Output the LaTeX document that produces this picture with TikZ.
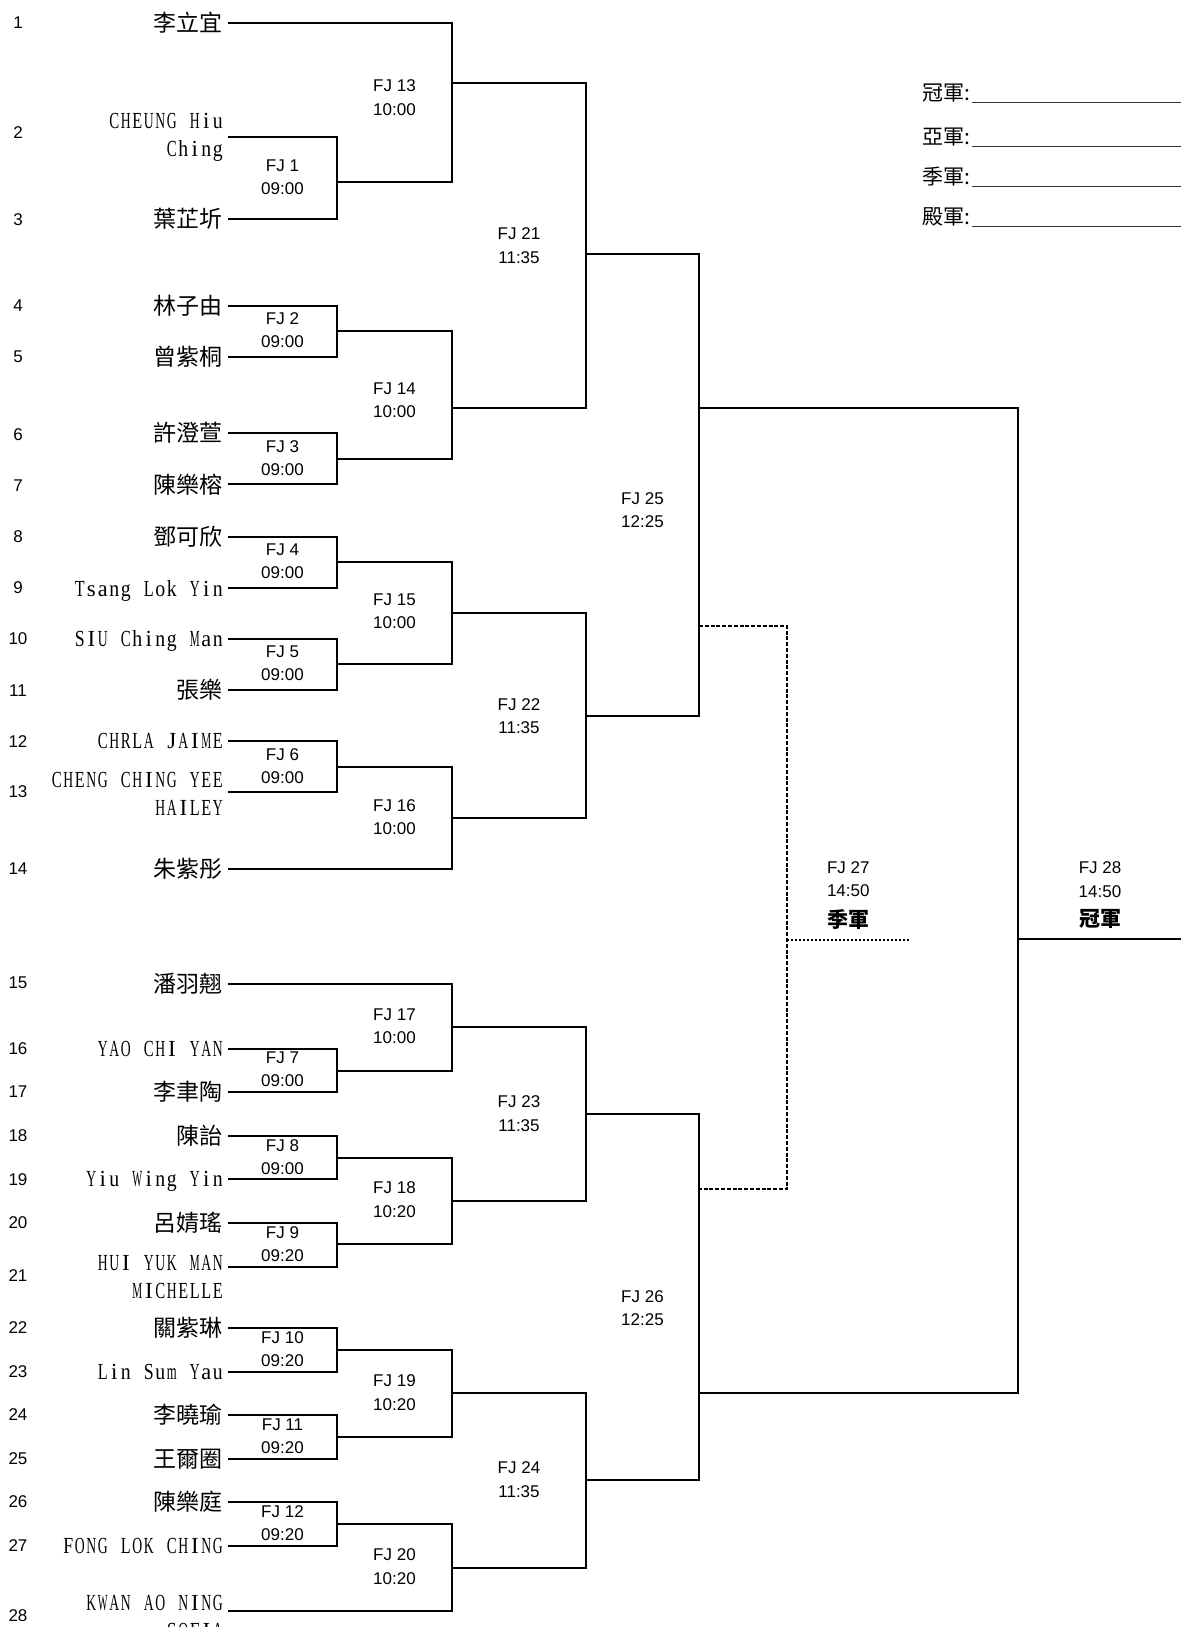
\documentclass[tikz,border=0pt]{standalone}
\usepackage{fontspec}
\usepackage{graphicx}
\setmainfont{Liberation Serif}
\newfontfamily\cjk{Noto Sans CJK TC}
\newfontfamily\arial{Liberation Sans}
\newlength\monocw \setlength\monocw{5.75pt}
\newsavebox\monobox
\newcommand\monochar[1]{\sbox\monobox{#1}\ifdim\wd\monobox>0.86\monocw\makebox[\monocw][c]{\resizebox{0.86\monocw}{\height}{\usebox\monobox}}\else\makebox[\monocw][c]{\usebox\monobox}\fi}
\ExplSyntaxOn
\NewDocumentCommand\mono{m}{\str_map_inline:nn{#1}{\monochar{##1}}}
\ExplSyntaxOff
\tikzset{
  bline/.style={line width=1pt},
  seed/.style={font=\arial\fontsize{8.5}{10}\selectfont, anchor=base, inner sep=0pt},
  lat/.style={font=\fontsize{11.5}{14}\selectfont, anchor=base east, inner sep=0pt},
  lattwo/.style={font=\fontsize{11.5}{14}\selectfont, anchor=north east, align=right, inner sep=0pt},
  zh/.style={font=\cjk\fontsize{11.5}{14}\selectfont, anchor=base east, inner sep=0pt},
  match/.style={font=\arial\fontsize{8.5}{11.65}\selectfont, align=center, inner sep=0pt},
  title/.style={font=\cjk\bfseries\fontsize{10.5}{12}\selectfont, inner sep=0pt},
  leg/.style={font=\cjk\fontsize{10.5}{12}\selectfont, anchor=base east, inner sep=0pt},
  legline/.style={line width=0.6pt, black!80},
  dashline/.style={line width=0.85pt, dash pattern=on 2pt off 0.9pt},
  dotline/.style={line width=0.8pt, dash pattern=on 0.8pt off 1.2pt}
}
\begin{document}
\begin{tikzpicture}[x=0.5pt,y=-0.5pt]
\fill[white] (0,0) rectangle (1181,1627);
\useasboundingbox (0,0) rectangle (1181,1627);

% seeds
\foreach \i/\yy in {1/22.8,2/132,3/219,4/305,5/356,6/434,7/485,8/536.5,9/587.4,10/638.2,11/690,12/741,13/791.8,14/868.6,15/982.8,16/1048,17/1091.8,18/1135.3,19/1178.9,20/1222.5,21/1275,22/1327.3,23/1371,24/1414.6,25/1458.2,26/1501.7,27/1545.3,28/1615}
  \node[seed] (s\i) at (18,\yy+6.1) {\i};

% player line starts
\foreach \i/\yy in {1/22.7,2/136.7,3/218.7,4/305.7,5/356.7,6/433,7/484.3,8/536.5,9/588.4,10/639.3,11/690,12/741,13/792.3,14/869,15/983.8,16/1049,17/1091.7,18/1136,19/1179,20/1222.7,21/1266.7,22/1328,23/1371.7,24/1415,25/1459,26/1501.7,27/1546,28/1611}
  \coordinate (p\i) at (228,\yy);

% names
\node[zh] (n1) at (223,22.7+8.7) {李立宜};
\node[lattwo] (n2) at (224,113.3) {\mono{CHEUNG Hiu}\\\mono{Ching}};
\node[zh] (n3) at (223,218.7+8.7) {葉芷圻};
\node[zh] (n4) at (223,305.7+8.7) {林子由};
\node[zh] (n5) at (223,356.7+8.7) {曾紫桐};
\node[zh] (n6) at (223,433+8.7) {許澄萱};
\node[zh] (n7) at (223,484.3+8.7) {陳樂榕};
\node[zh] (n8) at (223,536.5+8.7) {鄧可欣};
\node[lat] (n9) at (224,588.4+7.6) {\mono{Tsang Lok Yin}};
\node[lat] (n10) at (224,639.3+7.6) {\mono{SIU Ching Man}};
\node[zh] (n11) at (223,690+8.7) {張樂};
\node[lat] (n12) at (224,741+7.6) {\mono{CHRLA JAIME}};
\node[lattwo] (n13) at (224,771.7) {\mono{CHENG CHING YEE}\\\mono{HAILEY}};
\node[zh] (n14) at (223,869+8.7) {朱紫彤};
\node[zh] (n15) at (223,983.8+8.7) {潘羽翹};
\node[lat] (n16) at (224,1049+7.6) {\mono{YAO CHI YAN}};
\node[zh] (n17) at (223,1091.7+8.7) {李聿陶};
\node[zh] (n18) at (223,1136+8.7) {陳詒};
\node[lat] (n19) at (224,1179+7.6) {\mono{Yiu Wing Yin}};
\node[zh] (n20) at (223,1222.7+8.7) {呂婧瑤};
\node[lattwo] (n21) at (224,1255) {\mono{HUI YUK MAN}\\\mono{MICHELLE}};
\node[zh] (n22) at (223,1328+8.7) {關紫琳};
\node[lat] (n23) at (224,1371.7+7.6) {\mono{Lin Sum Yau}};
\node[zh] (n24) at (223,1415+8.7) {李曉瑜};
\node[zh] (n25) at (223,1459+8.7) {王爾圈};
\node[zh] (n26) at (223,1501.7+8.7) {陳樂庭};
\node[lat] (n27) at (224,1546+7.6) {\mono{FONG LOK CHING}};
\node[lattwo] (n28) at (224,1595) {\mono{KWAN AO NING}\\\mono{SOFIA}};

% match output points
\foreach \i/\xx/\yy in {1/337/181.7,2/337/330.7,3/337/459,4/337/561.7,5/337/664.3,6/337/766.7,7/337/1070.7,8/337/1157.7,9/337/1244.3,10/337/1350,11/337/1436.7,12/337/1524,13/452/82.7,14/452/407.7,15/452/613.3,16/452/817.7,17/452/1027.3,18/452/1201,19/452/1392.7,20/452/1567.7,21/586/254.3,22/586/715.7,23/586/1114,24/586/1480,25/699/408,26/699/1392.7,27/787/940,28/1018/939.3}
  \coordinate (o\i) at (\xx,\yy);
\coordinate (end) at (1181,939.3);
\coordinate (d25) at (699,625.7);
\coordinate (d26) at (699,1189);
\coordinate (e27) at (909,940);

% brackets
\begin{scope}[bline]
\draw (p2) -| (o1) |- (p3);
\draw (p4) -| (o2) |- (p5);
\draw (p6) -| (o3) |- (p7);
\draw (p8) -| (o4) |- (p9);
\draw (p10) -| (o5) |- (p11);
\draw (p12) -| (o6) |- (p13);
\draw (p16) -| (o7) |- (p17);
\draw (p18) -| (o8) |- (p19);
\draw (p20) -| (o9) |- (p21);
\draw (p22) -| (o10) |- (p23);
\draw (p24) -| (o11) |- (p25);
\draw (p26) -| (o12) |- (p27);
\draw (p1) -| (o13) |- (o1);
\draw (o2) -| (o14) |- (o3);
\draw (o4) -| (o15) |- (o5);
\draw (o6) -| (o16) |- (p14);
\draw (p15) -| (o17) |- (o7);
\draw (o8) -| (o18) |- (o9);
\draw (o10) -| (o19) |- (o11);
\draw (o12) -| (o20) |- (p28);
\draw (o13) -| (o21) |- (o14);
\draw (o15) -| (o22) |- (o16);
\draw (o17) -| (o23) |- (o18);
\draw (o19) -| (o24) |- (o20);
\draw (o21) -| (o25) |- (o22);
\draw (o23) -| (o26) |- (o24);
\draw (o25) -| (o28) |- (o26);
\draw (o28) -- (end);
\end{scope}
\draw[dashline] (d25) -| (o27) |- (d26);
\draw[dotline] (o27) -- (e27);

% match labels
\foreach \i/\xx/\yy/\t in {1/282.5/177.3/09:00,2/282.5/330/09:00,3/282.5/458.3/09:00,4/282.5/561.5/09:00,5/282.5/663.2/09:00,6/282.5/766.3/09:00,7/282.5/1069.5/09:00,8/282.5/1157/09:00,9/282.5/1244/09:20,10/282.5/1349.2/09:20,11/282.5/1436.3/09:20,12/282.5/1523.3/09:20,13/394.5/97.7/10:00,14/394.5/400/10:00,15/394.5/611.3/10:00,16/394.5/817.2/10:00,17/394.5/1026.3/10:00,18/394.5/1199.7/10:20,19/394.5/1392.5/10:20,20/394.5/1566.7/10:20,21/519/245.7/11:35,22/519/716.3/11:35,23/519/1113.7/11:35,24/519/1479.7/11:35,25/642.5/510/12:25,26/642.5/1307.8/12:25,27/848.3/879/14:50,28/1100/879.5/14:50}
  \node[match] (l\i) at (\xx,\yy) {FJ \i\\\t};
\node[title] (w27) at (848.3,920) {季軍};
\node[title] (w28) at (1100,919.3) {冠軍};

% legend
\node[leg] (g1) at (971,100.3) {冠軍:};
\node[leg] (g2) at (971,144.7) {亞軍:};
\node[leg] (g3) at (971,184.7) {季軍:};
\node[leg] (g4) at (971,224.7) {殿軍:};
\coordinate (u1) at (1181,102.3);
\coordinate (u2) at (1181,146.7);
\coordinate (u3) at (1181,186.7);
\coordinate (u4) at (1181,226.7);
\foreach \i in {1,2,3,4}
  \draw[legline] (g\i.base east) ++(1,2) -- (u\i);
\end{tikzpicture}
\end{document}
